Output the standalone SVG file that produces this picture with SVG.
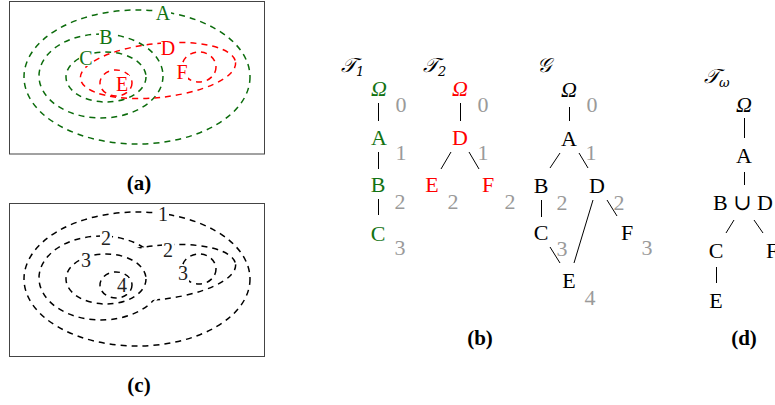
<svg xmlns="http://www.w3.org/2000/svg" width="775" height="405" viewBox="0 0 775 405">
<style>
.t{font-family:"Liberation Serif","DejaVu Serif",serif;font-size:22px;text-anchor:middle}
.s{font-size:20px}
.g{fill:#137313}
.r{fill:#ff0000}
.k{fill:#000}
.c{fill:#222}
.n{fill:#9a9a9a}
.it{font-style:italic}
.cap{font-weight:bold;font-size:21px}
.sc{font-family:"DejaVu Serif","DejaVu Sans","Noto Sans",serif;font-size:20px;text-anchor:start}
.dg{fill:none;stroke:#0b6b0b;stroke-width:1.5;stroke-dasharray:6 5}
.dr{fill:none;stroke:#ff0000;stroke-width:1.5;stroke-dasharray:6 5}
.dk{fill:none;stroke:#000;stroke-width:1.5;stroke-dasharray:6 5}
.bg{fill:#fff}
.frame{fill:#fff;stroke:#444;stroke-width:1}
.e{stroke:#000;stroke-width:1;fill:none}
</style>
<defs>
<mask id="notD" maskUnits="userSpaceOnUse" x="0" y="-10" width="300" height="200">
<rect x="0" y="-10" width="300" height="200" fill="#fff"/>
<ellipse cx="158" cy="70.5" rx="78" ry="27" transform="rotate(-6 158 70.5)" fill="#000"/>
</mask>
<mask id="notB" maskUnits="userSpaceOnUse" x="0" y="-10" width="300" height="200">
<rect x="0" y="-10" width="300" height="200" fill="#fff"/>
<ellipse cx="101" cy="76" rx="62" ry="42" fill="#000"/>
</mask>
</defs>

<!-- Panel (a) -->
<g id="panel-a">
<rect class="frame" x="9.5" y="1.5" width="255" height="152.5"/>
<g id="A"><ellipse class="dg" cx="137" cy="77" rx="113" ry="67"/></g>
<g id="B"><ellipse class="dg" cx="101" cy="76" rx="62" ry="42"/></g>
<g id="C"><ellipse class="dg" cx="106" cy="77" rx="40" ry="25"/></g>
<g id="D"><ellipse class="dr" cx="158" cy="70.5" rx="78" ry="27" transform="rotate(-6 158 70.5)"/></g>
<g id="E"><ellipse class="dr" cx="116" cy="83" rx="16" ry="13"/></g>
<g id="F"><ellipse class="dr" cx="199" cy="67" rx="17" ry="15"/></g>
<rect class="bg" x="156" y="4" width="15" height="17"/>
<rect class="bg" x="99" y="28" width="15" height="17"/>
<rect class="bg" x="79" y="49" width="14" height="17"/>
<rect class="bg" x="161" y="39" width="15" height="17"/>
<rect class="bg" x="116" y="75" width="13" height="17"/>
<rect class="bg" x="177" y="63" width="11" height="17"/>
<text class="t s g" x="163" y="20">A</text>
<text class="t s g" x="106" y="44">B</text>
<text class="t s g" x="86" y="65">C</text>
<text class="t s r" x="168" y="55">D</text>
<text class="t s r" x="122" y="91">E</text>
<text class="t s r" x="182" y="79">F</text>
<text class="t cap k" x="139" y="190">(a)</text>
</g>

<!-- Panel (c) -->
<g id="panel-c">
<rect class="frame" x="9.5" y="203.5" width="255" height="153"/>
<g transform="translate(0,202)">
<g id="c1"><ellipse class="dk" cx="137" cy="77" rx="113" ry="67"/></g>
<g id="c2">
<ellipse class="dk" cx="101" cy="76" rx="62" ry="42" mask="url(#notD)"/>
<ellipse class="dk" cx="158" cy="70.5" rx="78" ry="27" transform="rotate(-6 158 70.5)" mask="url(#notB)"/>
</g>
<g id="c3a"><ellipse class="dk" cx="106" cy="77" rx="40" ry="25"/></g>
<g id="c4"><ellipse class="dk" cx="116" cy="83" rx="16" ry="13"/></g>
<g id="c3b"><ellipse class="dk" cx="199" cy="67" rx="17" ry="15"/></g>
<rect class="bg" x="157" y="3" width="12" height="17"/>
<rect class="bg" x="100" y="27" width="12" height="17"/>
<rect class="bg" x="162" y="39" width="12" height="17"/>
<rect class="bg" x="80" y="49" width="12" height="17"/>
<rect class="bg" x="117" y="75" width="11" height="17"/>
<rect class="bg" x="178" y="63" width="11" height="17"/>
<text class="t s c" x="163" y="19">1</text>
<text class="t s c" x="106" y="43">2</text>
<text class="t s c" x="168" y="55">2</text>
<text class="t s c" x="86" y="65">3</text>
<text class="t s c" x="122" y="90">4</text>
<text class="t s c" x="183" y="78">3</text>
</g>
<text class="t cap k" x="139" y="392">(c)</text>
</g>

<!-- Panel (b) -->
<g id="panel-b">
<text class="sc it" x="341" y="72">𝒯<tspan font-size="13" dy="4">1</tspan></text>
<text class="sc it" x="423" y="72">𝒯<tspan font-size="13" dy="4">2</tspan></text>
<text class="sc it" x="537" y="72">𝒢</text>

<g id="connectors-b">
<line class="e" x1="378.5" y1="103" x2="378.5" y2="121"/>
<line class="e" x1="378.5" y1="152" x2="378.5" y2="169"/>
<line class="e" x1="378.5" y1="199" x2="378.5" y2="215"/>
<line class="e" x1="460.5" y1="103" x2="460.5" y2="121"/>
<line class="e" x1="451" y1="152" x2="441" y2="169"/>
<line class="e" x1="469" y1="152" x2="479" y2="169"/>
<line class="e" x1="569.5" y1="107" x2="569.5" y2="121"/>
<line class="e" x1="560" y1="153" x2="550" y2="168"/>
<line class="e" x1="579" y1="153" x2="588" y2="168"/>
<line class="e" x1="541.5" y1="200" x2="541.5" y2="217"/>
<line class="e" x1="607" y1="200" x2="617" y2="216"/>
<line class="e" x1="550" y1="247" x2="560" y2="263"/>
<line class="e" x1="593" y1="200" x2="574" y2="263"/>
</g>

<g id="T1-Omega"><text class="t g it" x="379" y="96">Ω</text><text class="t n" x="401" y="112">0</text></g>
<g id="T1-A"><text class="t g" x="379" y="145">A</text><text class="t n" x="401" y="160">1</text></g>
<g id="T1-B"><text class="t g" x="378" y="192">B</text><text class="t n" x="400" y="209">2</text></g>
<g id="T1-C"><text class="t g" x="378" y="241">C</text><text class="t n" x="400" y="255">3</text></g>

<g id="T2-Omega"><text class="t r it" x="460" y="96">Ω</text><text class="t n" x="483" y="112">0</text></g>
<g id="T2-D"><text class="t r" x="460" y="145">D</text><text class="t n" x="483" y="160">1</text></g>
<g id="T2-E"><text class="t r" x="432" y="192">E</text><text class="t n" x="453" y="209">2</text></g>
<g id="T2-F"><text class="t r" x="488" y="192">F</text><text class="t n" x="510" y="209">2</text></g>

<g id="G-Omega"><text class="t k it" x="569" y="97">Ω</text><text class="t n" x="592" y="112">0</text></g>
<g id="G-A"><text class="t k" x="569" y="146">A</text><text class="t n" x="591" y="160">1</text></g>
<g id="G-B"><text class="t k" x="541" y="193">B</text><text class="t n" x="562" y="210">2</text></g>
<g id="G-D"><text class="t k" x="597" y="193">D</text><text class="t n" x="619" y="210">2</text></g>
<g id="G-C"><text class="t k" x="541" y="240">C</text><text class="t n" x="562" y="256">3</text></g>
<g id="G-F"><text class="t k" x="627" y="240">F</text><text class="t n" x="647" y="255">3</text></g>
<g id="G-E"><text class="t k" x="569" y="288">E</text><text class="t n" x="590" y="305">4</text></g>

<text class="t cap k" x="480" y="345">(b)</text>
</g>

<!-- Panel (d) -->
<g id="panel-d">
<text class="sc it" x="704" y="83">𝒯<tspan font-size="13" dy="4">ω</tspan></text>
<g id="connectors-d">
<line class="e" x1="744.5" y1="118" x2="744.5" y2="138"/>
<line class="e" x1="744.5" y1="172" x2="744.5" y2="185"/>
<line class="e" x1="734" y1="220" x2="726" y2="233"/>
<line class="e" x1="754" y1="220" x2="763" y2="233"/>
<line class="e" x1="716.5" y1="267" x2="716.5" y2="283"/>
</g>
<g id="Tw-Omega"><text class="t k it" x="744" y="112">Ω</text></g>
<g id="Tw-A"><text class="t k" x="744" y="163">A</text></g>
<g id="Tw-BD"><text class="t k" x="743" y="210">B ∪ D</text></g>
<g id="Tw-C"><text class="t k" x="716" y="258">C</text></g>
<g id="Tw-F"><text class="t k" x="766" y="258" style="text-anchor:start">F</text></g>
<g id="Tw-E"><text class="t k" x="716" y="308">E</text></g>
<text class="t cap k" x="744" y="345">(d)</text>
</g>
</svg>
